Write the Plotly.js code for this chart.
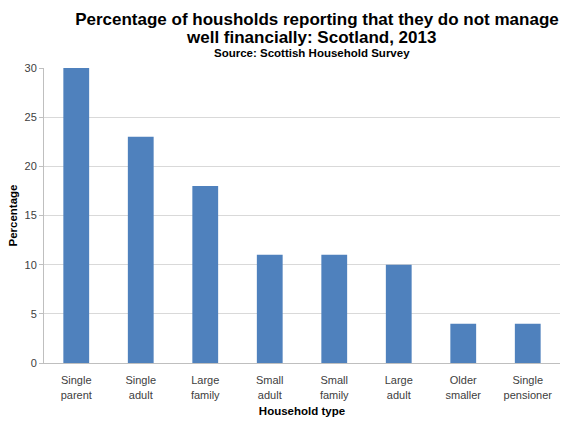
<!DOCTYPE html>
<html>
<head>
<meta charset="utf-8">
<script src="https://cdn.plot.ly/plotly-3.0.1.min.js"></script>
<style>html,body{margin:0;padding:0;background:#fff}#chart{width:564px;height:421px}</style>
</head>
<body>
<div id="chart"></div>
<script>
const categories = ["Single<br>parent", "Single<br>adult", "Large<br>family", "Small<br>adult", "Small<br>family", "Large<br>adult", "Older<br>smaller", "Single<br>pensioner"];
const percentages = [30, 23, 18, 11, 11, 10, 4, 4];
const yTicks = [0, 5, 10, 15, 20, 25, 30];

const trace = {
  type: 'bar',
  x: categories,
  y: percentages,
  marker: {color: '#4f81bd'},
  hoverinfo: 'x+y'
};

const FONT = 'Liberation Sans, Arial, sans-serif';

const layout = {
  width: 564,
  height: 421,
  margin: {l: 44, r: 4, t: 68, b: 58},
  paper_bgcolor: '#ffffff',
  plot_bgcolor: '#ffffff',
  bargap: 0.6,
  showlegend: false,
  font: {family: FONT, color: '#404040', size: 11},
  title: {
    text: '<b>Percentage of housholds reporting that they do not manage</b>',
    font: {family: FONT, size: 17, color: '#000000'},
    xref: 'container', x: 0.562, xanchor: 'center',
    yref: 'container', y: 0.955, yanchor: 'middle'
  },
  annotations: [{
    text: '<b>well financially: Scotland, 2013</b>',
    xref: 'paper', yref: 'paper', x: 0.518, y: 1.105, xanchor: 'center', yanchor: 'middle',
    showarrow: false,
    font: {family: FONT, size: 17, color: '#000000'}
  }, {
    text: '<b>Source: Scottish Household Survey</b>',
    xref: 'paper', yref: 'paper', x: 0.52, y: 1.0508, xanchor: 'center', yanchor: 'middle',
    showarrow: false,
    font: {family: FONT, size: 11.5, color: '#000000'}
  }],
  xaxis: {
    type: 'category',
    showline: true, linecolor: '#bfbfbf', linewidth: 1,
    ticks: '', tickfont: {size: 11, color: '#404040'},
    ticklabelstandoff: 7,
    title: {text: '<b>Household type</b>', font: {size: 11.5, color: '#000000'}, standoff: 7},
    fixedrange: true
  },
  yaxis: {
    range: [0, 30],
    tickvals: yTicks,
    showgrid: true, gridcolor: '#d9d9d9', gridwidth: 1,
    showline: true, linecolor: '#bfbfbf', linewidth: 1,
    ticks: 'outside', ticklen: 4, tickcolor: '#bfbfbf',
    tickfont: {size: 11, color: '#404040'},
    zeroline: false,
    title: {text: '<b>Percentage</b>', font: {size: 11.5, color: '#000000'}, standoff: 4},
    fixedrange: true
  }
};

Plotly.newPlot('chart', [trace], layout, {displayModeBar: false, staticPlot: true});
</script>
</body>
</html>
